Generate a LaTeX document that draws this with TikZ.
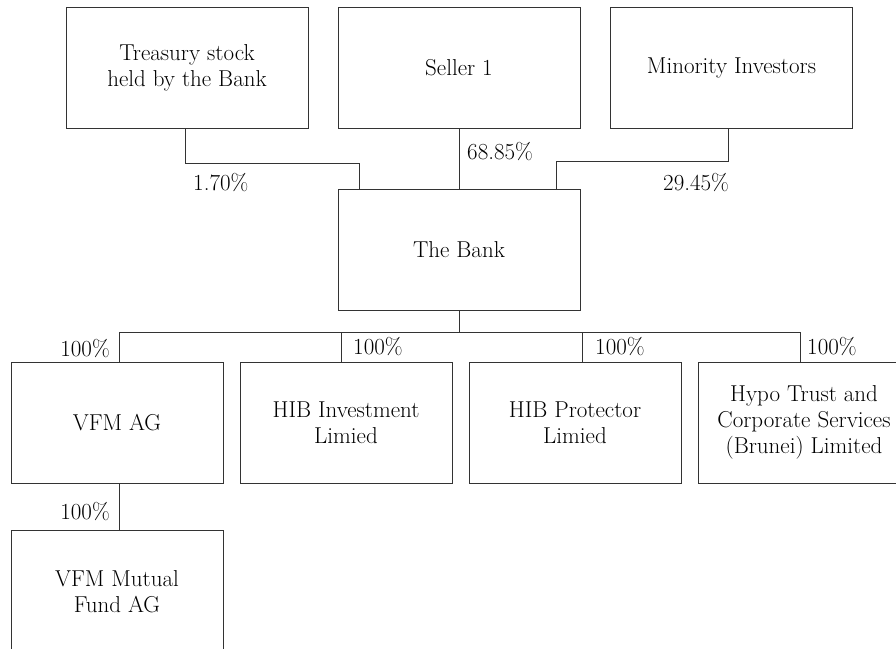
\documentclass[tikz,border=0pt]{standalone}
\begin{document}
\begin{tikzpicture}[x=1pt,y=-1pt,
 box/.style={draw=black!80, line width=1pt, minimum width=242pt, minimum height=121pt, inner sep=0pt, align=center, font=\fontsize{23}{26}\selectfont},
 sbox/.style={box, minimum width=212pt},
 link/.style={draw=black!80, line width=1pt},
 pct/.style={inner sep=0pt, font=\fontsize{23}{26}\selectfont}]
\useasboundingbox (0,0) rectangle (896,648);
\clip (0,0) rectangle (896,648);
\node[box] (treas) at (187,67.5) {Treasury stock\\held by the Bank};
\node[box] (seller) at (459,67.5) {Seller 1};
\node[box] (minor) at (731.5,67.5) {Minority Investors};
\node[box] (bank) at (459,249.5) {The Bank};
\node[sbox] (vfm) at (117,422.5) {VFM AG};
\node[sbox] (hibi) at (346,422.5) {HIB Investment\\Limied};
\node[sbox] (hibp) at (575,422.5) {HIB Protector\\Limied};
\node[sbox] (hypo) at (804,422.5) {Hypo Trust and\\Corporate Services\\(Brunei) Limited};
\node[sbox, minimum height=124pt] (mutual) at (117,592) {VFM Mutual\\Fund AG};
\coordinate (tA) at ([xshift=22]bank.north west);
\coordinate (tB) at ([xshift=-24]bank.north east);
\draw[link] ([xshift=-2]treas.south) -- ++(0,35) -| (tA);
\draw[link] (seller.south) -- (bank.north);
\draw[link] ([xshift=-3]minor.south) -- ++(0,33) -| (tB);
\draw[link] (bank.south) -- ++(0,22) coordinate (hub);
\draw[link] ([xshift=2]vfm.north) |- (hub) -| ([xshift=-4]hypo.north);
\draw[link] ([xshift=-5]hibi.north) -- ++(0,-30);
\draw[link] ([xshift=7]hibp.north) -- ++(0,-30);
\draw[link] ([xshift=2]vfm.south) -- ([xshift=2]mutual.north);
\node[pct, anchor=west] (p1) at (193,183) {1.70\%};
\node[pct, anchor=west] (p2) at (467,152) {68.85\%};
\node[pct, anchor=west] (p3) at (663,183) {29.45\%};
\node[pct, anchor=east] (p4) at (110,349) {100\%};
\node[pct, anchor=west] (p5) at (353,347) {100\%};
\node[pct, anchor=west] (p6) at (595,347) {100\%};
\node[pct, anchor=west] (p7) at (807,347) {100\%};
\node[pct, anchor=east] (p8) at (110,512) {100\%};
\end{tikzpicture}
\end{document}
